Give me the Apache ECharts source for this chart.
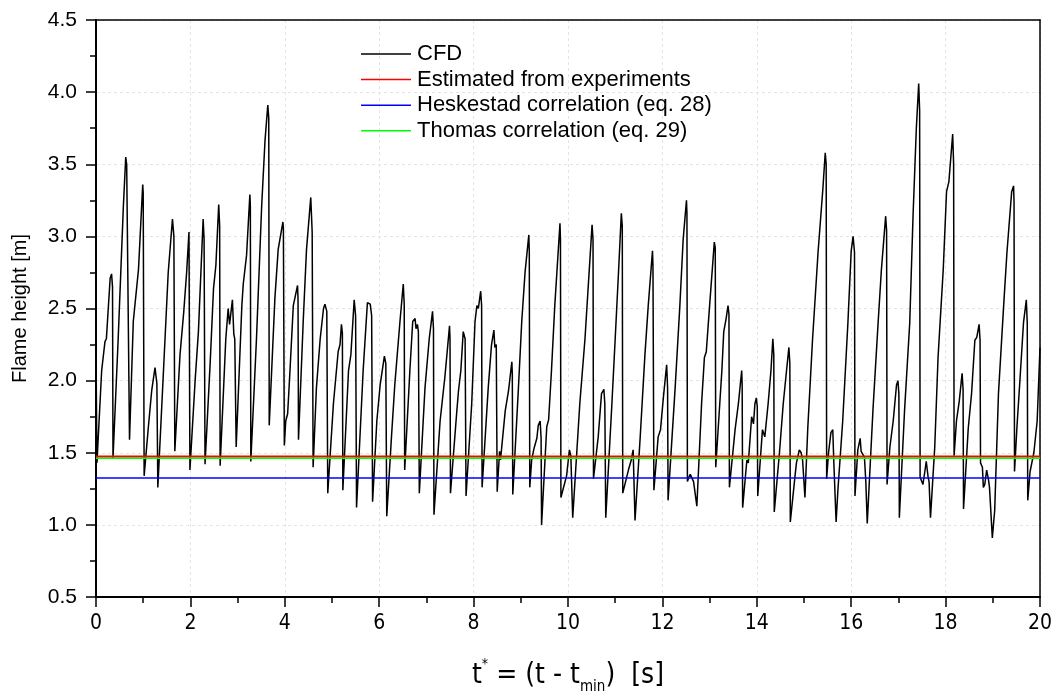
<!DOCTYPE html>
<html>
<head>
<meta charset="utf-8">
<script src="https://cdn.jsdelivr.net/npm/echarts@6/dist/echarts.min.js"></script>
<style>html,body{margin:0;padding:0;background:#fff;}#chart{width:1057px;height:700px;}</style>
</head>
<body>
<div id="chart"></div>
<script>
// CFD flame height time series: [t* (s), height (m)]
const cfdSeries = [
[0,2.2],[0.02,1.43],[0.07,1.75],[0.12,2.07],[0.19,2.27],[0.22,2.29],[0.30,2.71],[0.33,2.74],[0.35,2.65],[0.36,1.46],
[0.47,2.29],[0.58,3.21],[0.63,3.55],[0.65,3.50],[0.69,3.50],[0.71,1.59],
[0.79,2.41],[0.90,2.77],[0.99,3.36],[1.00,3.30],[1.02,1.34],
[1.11,1.68],[1.18,1.93],[1.25,2.09],[1.29,1.98],[1.31,1.26],
[1.43,2.07],[1.53,2.75],[1.62,3.12],[1.65,3.00],[1.67,1.51],
[1.78,2.18],[1.86,2.48],[1.92,2.75],[1.97,3.03],[1.99,1.38],
[2.10,2.00],[2.17,2.34],[2.27,3.12],[2.29,2.98],[2.31,1.42],
[2.42,2.13],[2.49,2.64],[2.54,2.80],[2.60,3.22],[2.62,3.07],[2.63,1.41],
[2.75,2.29],[2.80,2.50],[2.83,2.39],[2.89,2.56],[2.92,2.32],[2.94,2.29],[2.97,1.54],
[3.09,2.52],[3.12,2.67],[3.16,2.66],[3.19,2.87],[3.26,3.29],[3.27,3.21],[3.28,1.44],
[3.40,2.29],[3.51,3.21],[3.58,3.66],[3.64,3.91],[3.66,3.82],[3.67,1.69],
[3.79,2.57],[3.86,2.91],[3.96,3.10],[3.97,3.06],[3.99,1.55],
[4.02,1.72],[4.06,1.77],[4.11,2.07],[4.18,2.52],[4.27,2.66],[4.28,2.57],[4.29,1.59],
[4.39,2.41],[4.46,2.91],[4.55,3.27],[4.58,3.03],[4.60,1.40],
[4.67,1.95],[4.75,2.29],[4.82,2.50],[4.85,2.53],[4.89,2.48],[4.91,1.22],
[5.03,1.84],[5.13,2.20],[5.17,2.25],[5.20,2.39],[5.22,2.33],[5.23,1.24],
[5.35,2.07],[5.40,2.18],[5.47,2.56],[5.50,2.45],[5.52,1.12],
[5.66,2.07],[5.75,2.54],[5.81,2.53],[5.84,2.45],[5.86,1.16],
[5.95,1.72],[6.02,1.97],[6.11,2.17],[6.14,2.12],[6.16,1.06],
[6.26,1.61],[6.33,1.97],[6.36,1.96],[6.44,2.41],[6.51,2.67],[6.53,2.53],[6.54,1.38],
[6.65,2.07],[6.71,2.41],[6.76,2.43],[6.78,2.36],[6.81,2.39],[6.83,2.34],[6.85,1.22],
[6.97,1.95],[7.06,2.29],[7.13,2.48],[7.15,2.36],[7.16,1.07],
[7.29,1.72],[7.39,2.02],[7.49,2.38],[7.50,2.29],[7.51,1.22],
[7.64,1.77],[7.68,1.93],[7.73,2.07],[7.78,2.34],[7.82,2.29],[7.84,1.20],
[7.96,1.84],[8.03,2.41],[8.07,2.52],[8.10,2.50],[8.15,2.62],[8.17,2.52],[8.18,1.26],
[8.31,1.95],[8.38,2.25],[8.43,2.35],[8.45,2.23],[8.48,2.25],[8.50,1.23],
[8.55,1.51],[8.57,1.45],[8.67,1.79],[8.74,1.93],[8.81,2.13],[8.82,2.05],[8.83,1.21],
[8.95,1.95],[9.02,2.41],[9.09,2.75],[9.17,3.01],[9.18,2.89],[9.19,1.26],
[9.23,1.45],[9.28,1.53],[9.34,1.60],[9.37,1.69],[9.41,1.72],[9.43,1.60],[9.44,1.00],
[9.55,1.68],[9.59,1.73],[9.65,2.07],[9.72,2.52],[9.83,3.09],[9.84,2.98],[9.85,1.19],
[9.97,1.34],[10.03,1.52],[10.06,1.48],[10.10,1.05],
[10.25,1.84],[10.36,2.29],[10.47,2.87],[10.51,3.08],[10.53,2.98],[10.54,1.32],
[10.64,1.61],[10.71,1.91],[10.76,1.94],[10.78,1.84],[10.80,1.05],
[10.93,1.84],[11.00,2.29],[11.07,2.75],[11.13,3.16],[11.15,3.07],[11.16,1.22],
[11.28,1.38],[11.34,1.45],[11.38,1.52],[11.42,1.03],
[11.53,1.61],[11.63,2.18],[11.70,2.52],[11.79,2.90],[11.80,2.80],[11.82,1.24],
[11.91,1.61],[11.96,1.66],[12.02,1.88],[12.09,2.11],[12.11,1.95],[12.12,1.17],
[12.27,1.95],[12.37,2.52],[12.44,2.98],[12.51,3.25],[12.52,3.16],[12.53,1.30],[12.56,1.33],[12.59,1.35],[12.62,1.34],[12.66,1.30],[12.73,1.13],
[12.83,1.84],[12.89,2.16],[12.93,2.20],[13.00,2.52],[13.10,2.96],[13.12,2.92],[13.13,1.40],
[13.26,2.07],[13.30,2.34],[13.35,2.43],[13.39,2.52],[13.41,2.46],[13.42,1.26],
[13.54,1.66],[13.61,1.84],[13.68,2.07],[13.69,1.97],[13.70,1.12],
[13.79,1.45],[13.82,1.43],[13.86,1.61],[13.89,1.75],[13.93,1.70],[13.96,1.84],[13.99,1.88],[14.01,1.82],[14.02,1.20],
[14.12,1.66],[14.17,1.61],[14.24,1.84],[14.30,2.07],[14.34,2.29],[14.36,2.18],[14.37,1.09],
[14.48,1.50],[14.56,1.84],[14.63,2.07],[14.68,2.23],[14.70,2.12],[14.71,1.02],
[14.81,1.34],[14.84,1.43],[14.90,1.52],[14.94,1.50],[14.97,1.45],[15.02,1.19],
[15.08,1.67],[15.18,2.28],[15.30,2.90],[15.40,3.33],[15.45,3.58],[15.47,3.50],[15.48,1.32],
[15.52,1.50],[15.57,1.64],[15.61,1.66],[15.63,1.45],[15.68,1.02],
[15.72,1.25],[15.82,1.72],[15.93,2.40],[16.00,2.90],[16.04,3.00],[16.07,2.89],[16.08,1.20],
[16.14,1.52],[16.19,1.60],[16.21,1.51],[16.25,1.52],[16.28,1.47],[16.31,1.30],[16.34,1.01],
[16.46,1.79],[16.57,2.40],[16.64,2.77],[16.73,3.14],[16.75,3.04],[16.76,1.28],
[16.82,1.54],[16.89,1.72],[16.96,1.97],[16.99,2.00],[17.01,1.91],[17.02,1.05],
[17.13,1.79],[17.24,2.40],[17.31,3.14],[17.38,3.75],[17.43,4.06],[17.45,3.87],[17.46,1.33],
[17.49,1.33],[17.52,1.28],[17.56,1.37],[17.59,1.44],[17.63,1.33],[17.65,1.30],[17.68,1.05],
[17.77,1.54],[17.84,2.16],[17.95,2.77],[18.02,3.31],[18.07,3.38],[18.15,3.71],[18.17,3.50],[18.18,1.48],
[18.23,1.72],[18.29,1.86],[18.35,2.05],[18.37,1.94],[18.38,1.11],
[18.48,1.67],[18.55,1.91],[18.62,2.28],[18.66,2.30],[18.71,2.39],[18.73,2.28],[18.74,1.43],
[18.78,1.40],[18.80,1.26],[18.83,1.28],[18.87,1.38],[18.91,1.31],[18.93,1.26],[18.99,0.91],
[19.04,1.10],[19.12,1.91],[19.23,2.52],[19.30,2.89],[19.40,3.31],[19.44,3.35],[19.45,3.24],[19.46,1.37],
[19.51,1.67],[19.58,2.03],[19.65,2.40],[19.71,2.56],[19.73,2.40],[19.74,1.17],
[19.79,1.37],[19.87,1.50],[19.94,1.72],[20.0,2.23]
];
const seriesNames = ['CFD', 'Estimated from experiments', 'Heskestad correlation (eq. 28)', 'Thomas correlation (eq. 29)'];
const estimatedHeight = 1.475;
const heskestadHeight = 1.325;
const thomasHeight = 1.463;
const timeRange = [0, 20];
const heightRange = [0.5, 4.5];

const chart = echarts.init(document.getElementById('chart'), null, {renderer: 'canvas'});
const narrow = "'Liberation Sans Narrow', 'DejaVu Sans Condensed', sans-serif";
const sans = "'Liberation Sans', Arial, sans-serif";
function flat(v) { return [[timeRange[0], v], [timeRange[1], v]]; }
const border = {show: true, onZero: false, lineStyle: {color: '#000', width: 1.5}};

chart.setOption({
  animation: false,
  backgroundColor: '#fff',
  grid: {left: 96, right: 17, top: 20, bottom: 98, containLabel: false},
  legend: {
    orient: 'vertical', left: 356, top: 38, itemWidth: 50, itemHeight: 1.5, itemGap: 3.6,
    icon: 'rect',
    textStyle: {fontFamily: sans, fontSize: 22, color: '#000', lineHeight: 22, padding: [0,0,0,1]},
    data: seriesNames
  },
  xAxis: [{
    type: 'value', min: timeRange[0], max: timeRange[1], interval: 2,
    axisLine: {show: true, onZero: false, lineStyle: {color: '#000', width: 2}},
    axisTick: {show: true, inside: false, length: 10, lineStyle: {color: '#000', width: 1.5}},
    minorTick: {show: true, splitNumber: 2, length: 6, lineStyle: {color: '#000', width: 1.5}},
    splitLine: {show: true, lineStyle: {color: '#e4e4e4', type: [3, 3], width: 1}},
    axisLabel: {fontFamily: narrow, fontSize: 21, color: '#000', margin: 16},
    name: '{t|t}{sup|*}{t| = (t - t}{sub|min}{t|)  [s]}',
    nameLocation: 'middle', nameGap: 60,
    nameTextStyle: {
      rich: {
        t: {fontFamily: narrow, fontSize: 28, color: '#000', lineHeight: 38, verticalAlign: 'middle'},
        sup: {fontFamily: narrow, fontSize: 14, color: '#000', lineHeight: 14, verticalAlign: 'top'},
        sub: {fontFamily: narrow, fontSize: 15, color: '#000', lineHeight: 15, verticalAlign: 'bottom'}
      }
    }
  }, {
    type: 'value', position: 'top', min: timeRange[0], max: timeRange[1], interval: 2,
    axisLine: border, axisTick: {show: false}, axisLabel: {show: false}, splitLine: {show: false}
  }],
  yAxis: [{
    type: 'value', min: heightRange[0], max: heightRange[1], interval: 0.5,
    axisLine: {show: true, onZero: false, lineStyle: {color: '#000', width: 2}},
    axisTick: {show: true, inside: false, length: 10, lineStyle: {color: '#000', width: 1.5}},
    minorTick: {show: true, splitNumber: 2, length: 6, lineStyle: {color: '#000', width: 1.5}},
    splitLine: {show: true, lineStyle: {color: '#e4e4e4', type: [3, 3], width: 1}},
    axisLabel: {fontFamily: sans, fontSize: 21, color: '#000', margin: 19, formatter: v => v.toFixed(1)},
    name: 'Flame height [m]', nameLocation: 'middle', nameGap: 66,
    nameTextStyle: {fontFamily: sans, fontSize: 20, color: '#000'}
  }, {
    type: 'value', position: 'right', min: heightRange[0], max: heightRange[1], interval: 0.5,
    axisLine: border, axisTick: {show: false}, axisLabel: {show: false}, splitLine: {show: false}
  }],
  series: [
    {name: seriesNames[0], type: 'line', data: cfdSeries, symbol: 'none', color: '#000', lineStyle: {color: '#000', width: 1.5}, z: 2},
    {name: seriesNames[1], type: 'line', data: flat(estimatedHeight), symbol: 'none', color: '#ff0000', lineStyle: {color: '#ff0000', width: 1.6}, z: 4},
    {name: seriesNames[2], type: 'line', data: flat(heskestadHeight), symbol: 'none', color: '#0000ff', lineStyle: {color: '#0000ff', width: 1.6}, z: 3},
    {name: seriesNames[3], type: 'line', data: flat(thomasHeight), symbol: 'none', color: '#00ff00', lineStyle: {color: '#00ff00', width: 1.6}, z: 3}
  ]
});
</script>
</body>
</html>
